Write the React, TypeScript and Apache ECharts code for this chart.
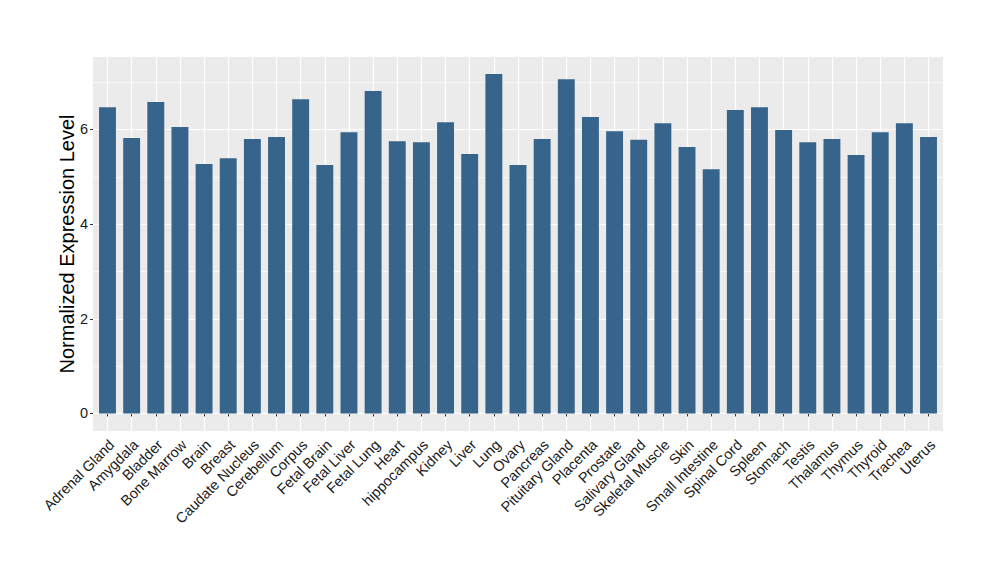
import React, { useEffect, useRef } from "react";
import * as echarts from "echarts";

const categories = [
  "Adrenal Gland", "Amygdala", "Bladder", "Bone Marrow", "Brain", "Breast",
  "Caudate Nucleus", "Cerebellum", "Corpus", "Fetal Brain", "Fetal Liver",
  "Fetal Lung", "Heart", "hippocampus", "Kidney", "Liver", "Lung", "Ovary",
  "Pancreas", "Pituitary Gland", "Placenta", "Prostate", "Salivary Gland",
  "Skeletal Muscle", "Skin", "Small Intestine", "Spinal Cord", "Spleen",
  "Stomach", "Testis", "Thalamus", "Thymus", "Thyroid", "Trachea", "Uterus",
];

const expression = [
  6.47, 5.82, 6.58, 6.05, 5.27, 5.39, 5.8, 5.84, 6.64, 5.25, 5.94, 6.81,
  5.75, 5.73, 6.15, 5.48, 7.17, 5.25, 5.8, 7.06, 6.26, 5.96, 5.78, 6.13,
  5.63, 5.16, 6.41, 6.47, 5.99, 5.73, 5.8, 5.46, 5.94, 6.13, 5.84,
];

const yMin = -0.37;
const yMax = 7.53;
const majorTicks = [0, 2, 4, 6];
const minorTicks = [1, 3, 5, 7];

const FONT = "'Liberation Sans', Arial, Helvetica, sans-serif";

export default function App() {
  const ref = useRef<HTMLDivElement>(null);

  useEffect(() => {
    if (!ref.current) return;
    const chart = echarts.init(ref.current, null, { renderer: "svg" });
    const panelLeft = 93;
    const panelWidth = 850;
    const step = panelWidth / (categories.length - 1 + 1.2);
    const innerLeft = panelLeft + 0.6 * step;
    const innerWidth = step * (categories.length - 1);

    const gridLines = [
      ...minorTicks.map((v) => ({ yAxis: v, lineStyle: { width: 0.6 } })),
      ...majorTicks.map((v) => ({ yAxis: v, lineStyle: { width: 1.2 } })),
    ];

    chart.setOption({
      animation: false,
      textStyle: { fontFamily: FONT },
      grid: [
        {
          left: panelLeft,
          top: 57,
          width: panelWidth,
          height: 374,
          show: true,
          backgroundColor: "#EBEBEB",
          borderWidth: 0,
        },
        {
          left: innerLeft,
          top: 57,
          width: innerWidth,
          height: 374,
        },
      ],
      xAxis: [
        { gridIndex: 0, type: "value", min: 0, max: 1, show: false },
        {
          gridIndex: 1,
          type: "category",
          data: categories,
          boundaryGap: false,
          axisLine: { show: false },
          axisTick: {
            show: true,
            interval: 0,
            length: 3,
            lineStyle: { color: "#333333", width: 1 },
          },
          splitLine: {
            show: true,
            interval: 0,
            lineStyle: { color: "#FFFFFF", width: 1.2 },
          },
          axisLabel: {
            interval: 0,
            rotate: 45,
            margin: 0,
            align: "right",
            verticalAlign: "top",
            lineHeight: 22,
            padding: [0, 5, 0, 0],
            fontSize: 14.5,
            color: "#1A1A1A",
            fontFamily: FONT,
          },
        },
      ],
      yAxis: [
        {
          gridIndex: 0,
          type: "value",
          min: yMin,
          max: yMax,
          axisLine: { show: false },
          splitLine: { show: false },
          axisTick: {
            show: true,
            length: 3,
            customValues: majorTicks,
            lineStyle: { color: "#333333", width: 1 },
          },
          axisLabel: {
            customValues: majorTicks,
            margin: 5,
            fontSize: 14.5,
            color: "#1A1A1A",
            fontFamily: FONT,
          },
          name: "Normalized Expression Level",
          nameLocation: "middle",
          nameGap: 16,
          nameMoveOverlap: false,
          nameTextStyle: { fontSize: 20, color: "#000000", fontFamily: FONT },
        },
        {
          gridIndex: 1,
          type: "value",
          min: yMin,
          max: yMax,
          show: false,
          splitLine: { show: false },
        },
      ],
      series: [
        {
          type: "line",
          xAxisIndex: 0,
          yAxisIndex: 0,
          data: [],
          silent: true,
          z: 1,
          markLine: {
            silent: true,
            symbol: "none",
            z: 1,
            label: { show: false },
            lineStyle: { color: "#FFFFFF", type: "solid" },
            data: gridLines,
          },
        },
        {
          type: "bar",
          xAxisIndex: 1,
          yAxisIndex: 1,
          data: expression,
          barWidth: "70%",
          z: 5,
          itemStyle: { color: "#36648B" },
        },
      ],
    });
    return () => chart.dispose();
  }, []);

  return (
    <div
      ref={ref}
      style={{ position: "absolute", left: 0, top: 0, width: 1000, height: 580 }}
    />
  );
}
